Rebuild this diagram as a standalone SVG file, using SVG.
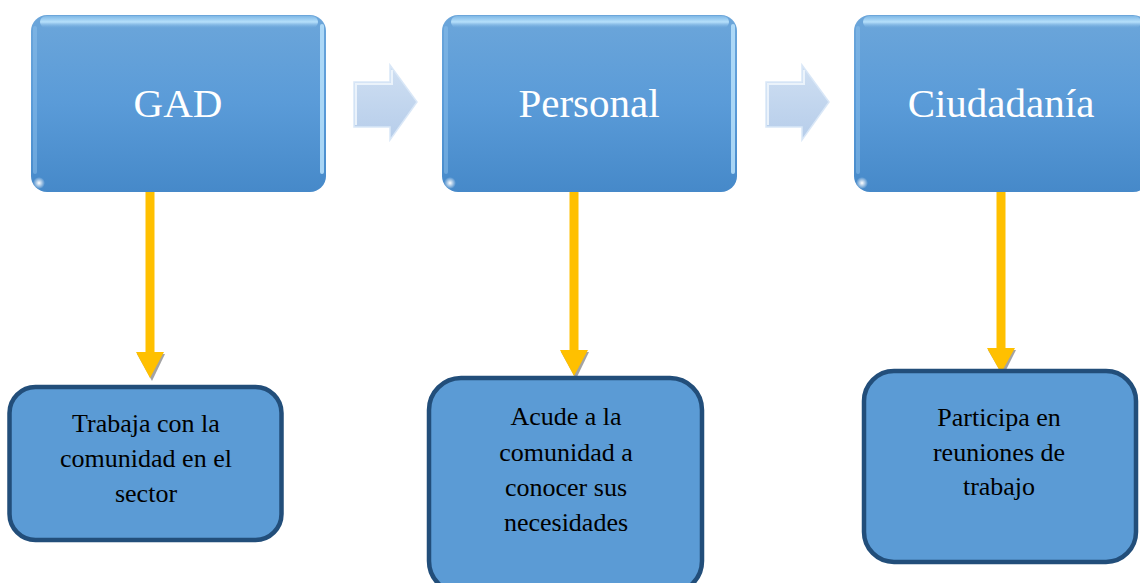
<svg xmlns="http://www.w3.org/2000/svg" width="1140" height="583" viewBox="0 0 1140 583">
  <style>
    .head-box { fill: url(#headFill); }
    .gloss-top { fill: url(#glossTop); }
    .gloss-side { fill: #b9e2fb; opacity: 0.85; }
    .gloss-left { fill: #8cc0ec; opacity: 0.5; }
    .head-label { font-size: 41px; fill: #ffffff; text-anchor: middle; }
    .detail-box { fill: #5b9bd5; stroke: #224e7a; stroke-width: 4.5; }
    .detail-label { font-size: 26px; fill: #000000; text-anchor: middle; }
    .drop-line { stroke: #ffc000; stroke-width: 9; fill: none; }
    .drop-head { fill: #ffc000; }
    .drop-shadow { fill: #8c8c8c; opacity: 0.8; }
    .step-arrow { fill: url(#stepFill); stroke: #d9e7f7; stroke-width: 1.5; }
    .step-bevel { fill: none; stroke: #eef5fc; stroke-width: 2; opacity: 0.9; }
  </style>
  <defs>
    <linearGradient id="headFill" x1="0" y1="0" x2="0" y2="1">
      <stop offset="0" stop-color="#6ca6da"/>
      <stop offset="0.5" stop-color="#5a9bd8"/>
      <stop offset="1" stop-color="#4689c9"/>
    </linearGradient>
    <linearGradient id="glossTop" x1="0" y1="0" x2="0" y2="1">
      <stop offset="0" stop-color="#7fb8e6"/>
      <stop offset="0.5" stop-color="#b6e0fb"/>
      <stop offset="1" stop-color="#7fb4e2" stop-opacity="0"/>
    </linearGradient>
    <linearGradient id="stepFill" x1="0" y1="0" x2="0" y2="1">
      <stop offset="0" stop-color="#cfdff2"/>
      <stop offset="1" stop-color="#b6cdea"/>
    </linearGradient>
    <radialGradient id="cornerGlow" cx="0.5" cy="0.5" r="0.5">
      <stop offset="0" stop-color="#ffffff"/>
      <stop offset="1" stop-color="#ffffff" stop-opacity="0"/>
    </radialGradient>
  </defs>

  <!-- step arrows between the header boxes -->
  <g id="step-arrows">
    <polygon class="step-arrow" points="354,82 390,82 390,65 417,102 390,140 390,127 354,127"/>
    <polyline class="step-bevel" points="356,125 356,84 392,84 392,70"/>
    <polygon class="step-arrow" points="766,82 802,82 802,65 829,102 802,140 802,127 766,127"/>
    <polyline class="step-bevel" points="768,125 768,84 804,84 804,70"/>
  </g>

  <!-- connectors: header box down to its detail box -->
  <g id="connectors">
    <line class="drop-line" x1="150" y1="192" x2="150" y2="354"/>
    <polygon class="drop-shadow" points="137,354 165,354 152,381"/>
    <polygon class="drop-head" points="136,352 164,352 150,378"/>

    <line class="drop-line" x1="574" y1="192" x2="574" y2="352"/>
    <polygon class="drop-shadow" points="561,352 589,352 576,379"/>
    <polygon class="drop-head" points="560,350 588,350 574,376"/>

    <line class="drop-line" x1="1001" y1="192" x2="1001" y2="350"/>
    <polygon class="drop-shadow" points="988,350 1016,350 1003,376"/>
    <polygon class="drop-head" points="987,348 1015,348 1001,373"/>
  </g>

  <!-- header boxes -->
  <g id="node-gad" font-family="Liberation Serif, DejaVu Serif, serif">
    <rect class="head-box" x="31" y="15" width="295" height="177" rx="16"/>
    <rect class="gloss-top" x="40" y="16" width="278" height="12" rx="6"/>
    <rect class="gloss-side" x="320" y="24" width="4" height="150" rx="2"/>
    <rect class="gloss-left" x="33" y="26" width="4" height="148" rx="2"/>
    <circle cx="39" cy="183" r="6" fill="url(#cornerGlow)"/>
    <text class="head-label" x="178" y="117">GAD</text>
  </g>

  <g id="node-personal" font-family="Liberation Serif, DejaVu Serif, serif">
    <rect class="head-box" x="442" y="15" width="295" height="177" rx="16"/>
    <rect class="gloss-top" x="451" y="16" width="278" height="12" rx="6"/>
    <rect class="gloss-side" x="731" y="24" width="4" height="150" rx="2"/>
    <rect class="gloss-left" x="444" y="26" width="4" height="148" rx="2"/>
    <circle cx="450" cy="183" r="6" fill="url(#cornerGlow)"/>
    <text class="head-label" x="589" y="117">Personal</text>
  </g>

  <g id="node-ciudadania" font-family="Liberation Serif, DejaVu Serif, serif">
    <rect class="head-box" x="854" y="15" width="295" height="177" rx="16"/>
    <rect class="gloss-top" x="863" y="16" width="278" height="12" rx="6"/>
    <rect class="gloss-left" x="856" y="26" width="4" height="148" rx="2"/>
    <circle cx="862" cy="183" r="6" fill="url(#cornerGlow)"/>
    <text class="head-label" x="1001" y="117">Ciudadanía</text>
  </g>

  <!-- detail boxes -->
  <g id="node-trabaja" font-family="Liberation Serif, DejaVu Serif, serif">
    <rect class="detail-box" x="9.5" y="387" width="272" height="153" rx="26"/>
    <text class="detail-label" x="146" y="432">Trabaja con la</text>
    <text class="detail-label" x="146" y="467">comunidad en el</text>
    <text class="detail-label" x="146" y="502">sector</text>
  </g>

  <g id="node-acude" font-family="Liberation Serif, DejaVu Serif, serif">
    <rect class="detail-box" x="429" y="378" width="273" height="215" rx="32"/>
    <text class="detail-label" x="566" y="425">Acude a la</text>
    <text class="detail-label" x="566" y="461">comunidad a</text>
    <text class="detail-label" x="566" y="496">conocer sus</text>
    <text class="detail-label" x="566" y="531">necesidades</text>
  </g>

  <g id="node-participa" font-family="Liberation Serif, DejaVu Serif, serif">
    <rect class="detail-box" x="864" y="371" width="272" height="191" rx="30"/>
    <text class="detail-label" x="999" y="426">Participa en</text>
    <text class="detail-label" x="999" y="461">reuniones de</text>
    <text class="detail-label" x="999" y="495">trabajo</text>
  </g>
</svg>
